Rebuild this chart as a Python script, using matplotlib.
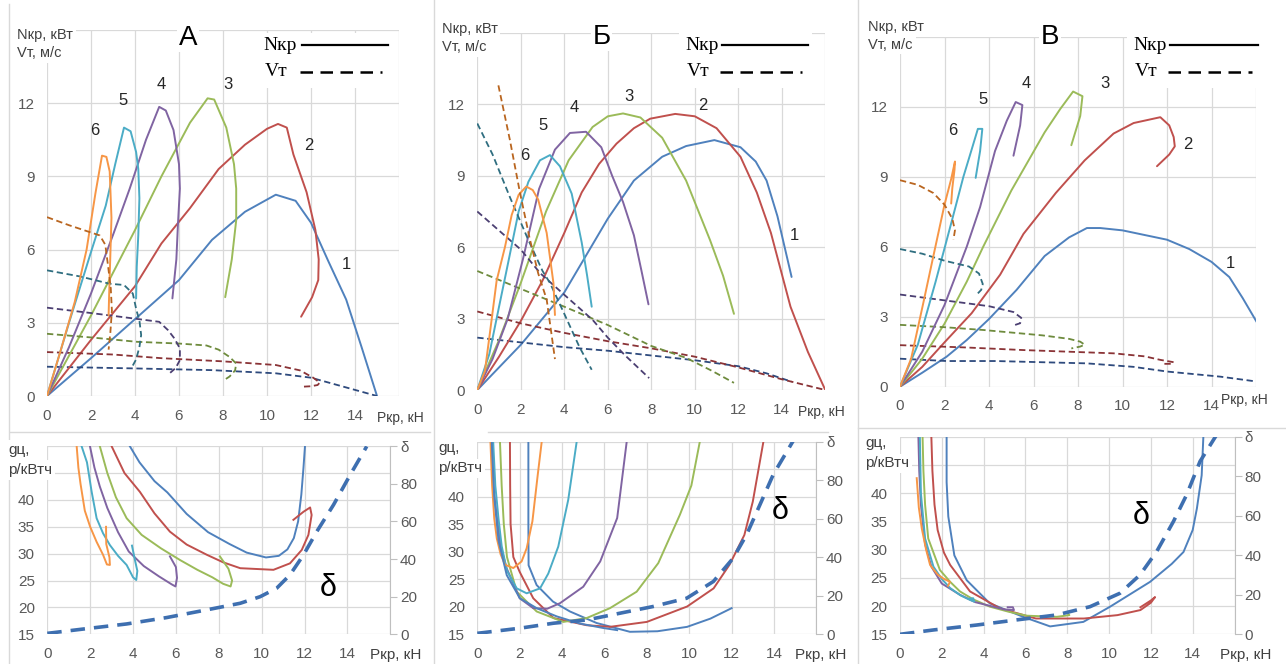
import matplotlib
matplotlib.use("Agg")
import matplotlib.pyplot as plt
from matplotlib.lines import Line2D
from matplotlib.patches import Rectangle

plt.rcParams['font.family'] = ['Liberation Sans', 'DejaVu Sans']

W, H = 1286, 664

# ---------------- data: top panels, Nкр (solid) and Vт (dashed), curves 1..6
a_n_x = [[0, 2, 4, 6, 7.5, 9, 10.4, 11.3, 12, 12.8, 13.6, 14.3, 15.0],
         [0, 2, 4, 5.2, 6.5, 7.8, 9, 10, 10.5, 10.9, 11.2, 11.8, 12.2, 12.35, 12.33, 12.05, 11.55],
         [0, 2, 4, 5.2, 6.5, 7.3, 7.6, 8.15, 8.5, 8.6, 8.6, 8.4, 8.1],
         [0, 1, 2, 3, 3.76, 4.5, 5.1, 5.4, 5.75, 6.0, 6.04, 5.95, 5.88, 5.7],
         [0, 1, 2, 2.67, 3.1, 3.5, 3.8, 4.05, 4.15, 4.2, 4.15, 4.08, 4.05],
         [0, 0.6, 1.26, 1.8, 2.2, 2.5, 2.7, 2.85, 2.93, 2.88, 2.82, 2.8]]
a_n_y = [[0, 1.55, 3.15, 4.75, 6.4, 7.55, 8.25, 8.0, 7.1, 5.5, 3.95, 2.0, 0],
         [0, 2.3, 4.5, 6.25, 7.7, 9.3, 10.3, 10.95, 11.15, 11.0, 9.9, 8.35, 6.8, 5.6, 4.75, 4.05, 3.25],
         [0, 3.3, 6.8, 9.0, 11.2, 12.2, 12.15, 11.0, 9.5, 8.5, 7.2, 5.6, 4.05],
         [0, 2.0, 4.2, 6.6, 8.5, 10.5, 11.85, 11.7, 10.9, 9.5, 8.5, 7.0, 5.6, 4.0],
         [0, 3.0, 5.9, 7.8, 9.5, 11.0, 10.85, 10.0, 9.3, 8.1, 6.6, 5.3, 4.0],
         [0, 1.8, 3.85, 6.0, 8.3, 9.85, 9.8, 9.2, 7.3, 5.8, 4.0, 3.3]]
a_v_x = [[0, 4, 7.5, 10.4, 12, 13, 14, 15],
         [0, 3, 5.2, 8, 10.4, 11.5, 12.1, 12.4, 12.3, 12.0, 11.6],
         [0, 2, 4.1, 6, 7.25, 7.8, 8.3, 8.6, 8.55, 8.3, 8.05],
         [0, 2, 4, 5.1, 5.5, 5.8, 6.04, 6.04, 5.85, 5.6],
         [0, 1.5, 2.85, 3.5, 3.9, 4.07, 4.2, 4.28, 4.2, 4.05, 3.9],
         [0, 1, 2, 2.4, 2.65, 2.78, 2.9, 2.95, 2.88, 2.8]]
a_v_y = [[1.2, 1.13, 1.06, 0.93, 0.75, 0.5, 0.25, 0],
         [1.8, 1.7, 1.55, 1.42, 1.27, 1.05, 0.75, 0.55, 0.45, 0.4, 0.38],
         [2.55, 2.4, 2.22, 2.15, 2.07, 1.9, 1.6, 1.33, 1.05, 0.8, 0.65],
         [3.62, 3.4, 3.17, 3.04, 2.7, 2.35, 1.95, 1.47, 1.15, 0.95],
         [5.15, 4.9, 4.6, 4.55, 4.2, 3.5, 3.1, 2.5, 2.0, 1.5, 1.25],
         [7.33, 7.0, 6.7, 6.58, 6.2, 5.3, 4.4, 3.5, 2.6, 1.9]]

b_n_x = [[0, 2, 4, 6, 7.2, 8.5, 9.6, 10.9, 12.1, 12.8, 13.3, 13.8, 14.45],
         [0, 1, 2, 3, 4, 4.8, 5.6, 6.4, 7.2, 7.95, 9.1, 10, 11, 12.1, 12.85, 13.5, 14.4, 15.2, 16],
         [0, 1, 2, 3.16, 4.2, 5.3, 6.0, 6.7, 7.5, 8.5, 9.6, 10.7, 11.3, 11.8],
         [0, 0.7, 1.4, 2.1, 2.84, 3.57, 4.26, 5.0, 5.7, 6.2, 6.7, 7.2, 7.55, 7.87],
         [0, 0.55, 1.0, 1.43, 1.9, 2.35, 2.88, 3.34, 3.8, 4.34, 4.8, 5.05, 5.26],
         [0, 0.35, 0.58, 0.89, 1.27, 1.58, 1.9, 2.25, 2.55, 2.8, 3.19, 3.5, 3.57]]
b_n_y = [[0, 1.9, 4.1, 7.2, 8.8, 9.8, 10.25, 10.5, 10.2, 9.6, 8.8, 7.3, 4.75],
         [0, 1.4, 2.9, 4.6, 6.6, 8.3, 9.5, 10.35, 11.0, 11.4, 11.6, 11.5, 11.0, 9.8, 8.3, 6.6, 3.5, 1.6, 0],
         [0, 2.1, 4.5, 7.5, 9.65, 11.05, 11.5, 11.62, 11.45, 10.6, 8.8, 6.3, 4.8, 3.2],
         [0, 1.3, 3.0, 5.5, 8.45, 10.1, 10.8, 10.85, 10.2, 9.0, 7.9, 6.5, 5.0, 3.6],
         [0, 1.5, 3.5, 5.4, 7.5, 8.75, 9.65, 9.87, 9.4, 8.25, 6.2, 4.8, 3.5],
         [0, 0.8, 2.4, 4.6, 6.0, 7.35, 8.2, 8.55, 8.4, 8.0, 6.6, 4.5, 3.15]]
b_v_x = [[0, 2, 4, 6, 8, 10, 12, 13.3, 14.45],
         [0, 2, 4, 6, 8, 10, 12, 14, 16],
         [0, 2, 4, 6, 8, 9.6, 10.8, 11.8],
         [0, 1, 2, 2.9, 4.0, 5.3, 6.0, 6.8, 7.9],
         [0, 0.7, 1.5, 2.3, 3.0, 3.34, 4.0, 4.7, 5.26],
         [0.97, 1.5, 1.96, 2.4, 2.8, 3.19, 3.57]]
b_v_y = [[2.2, 2.0, 1.8, 1.65, 1.45, 1.25, 1.0, 0.7, 0.35],
         [3.3, 2.8, 2.4, 2.05, 1.75, 1.4, 0.95, 0.45, 0],
         [5.0, 4.25, 3.5, 2.73, 1.85, 1.35, 0.8, 0.3],
         [7.5, 6.7, 5.9, 4.9, 4.0, 2.95, 2.2, 1.45, 0.5],
         [11.2, 9.9, 8.1, 6.4, 5.0, 4.5, 3.2, 1.8, 0.85],
         [12.8, 10.5, 8.3, 6.4, 4.9, 3.8, 1.3]]

c_n_x = [[0, 1, 2.1, 3, 4, 5.24, 6.5, 7.6, 8.4, 9, 10, 11, 12, 13, 14, 14.8, 15.4, 16.2],
         [0, 1, 2, 3.22, 4.5, 5.55, 7, 8.3, 9.6, 10.5, 11.7, 12.1, 12.3, 12.35, 12.1, 11.55],
         [0, 1, 2, 3, 3.74, 5, 6.5, 7.2, 7.78, 8.2, 8.1, 7.7],
         [0, 1, 2, 3, 3.6, 4.27, 4.8, 5.2, 5.5, 5.4, 5.1],
         [0, 0.8, 1.6, 2.3, 2.85, 3.2, 3.5, 3.7, 3.6, 3.4],
         [0, 0.5, 1.05, 1.5, 2.0, 2.3, 2.47, 2.45, 2.35, 2.3]]
c_n_y = [[0, 0.6, 1.29, 2.0, 2.9, 4.15, 5.6, 6.4, 6.8, 6.8, 6.7, 6.5, 6.3, 5.9, 5.35, 4.7, 3.8, 2.5],
         [0, 0.85, 1.9, 3.15, 4.8, 6.55, 8.3, 9.7, 10.85, 11.3, 11.55, 11.2, 10.7, 10.3, 9.95, 9.45],
         [0, 1.2, 2.7, 4.5, 6.0, 8.4, 10.9, 11.9, 12.65, 12.45, 11.6, 10.35],
         [0, 1.5, 3.5, 6.0, 7.7, 10.1, 11.4, 12.2, 12.07, 11.2, 9.9],
         [0, 1.8, 4.5, 7.0, 9.0, 10.1, 11.05, 11.05, 10.1, 8.95],
         [0, 1.2, 3.6, 5.6, 7.8, 8.9, 9.65, 9.3, 8.5, 7.85]]
c_v_x = [[0, 2.1, 4.3, 8.4, 10.5, 12, 14.4, 16.2],
         [0, 3, 5.55, 9.6, 11.0, 11.7, 12.3, 12.2, 11.8],
         [0, 2, 3.75, 6.4, 7.6, 8.1, 8.3, 8.1, 7.7],
         [0, 2, 4, 5.1, 5.45, 5.4, 5.15],
         [0, 1, 2, 3.1, 3.55, 3.72, 3.65, 3.5],
         [0, 0.8, 1.5, 2.0, 2.35, 2.47, 2.4]]
c_v_y = [[1.2, 1.1, 1.1, 1.0, 0.85, 0.65, 0.43, 0.2],
         [1.78, 1.68, 1.57, 1.43, 1.3, 1.15, 1.05, 0.98, 0.98],
         [2.65, 2.55, 2.43, 2.2, 2.05, 1.93, 1.8, 1.72, 1.64],
         [3.95, 3.7, 3.45, 3.2, 2.95, 2.72, 2.64],
         [5.9, 5.7, 5.4, 5.15, 4.85, 4.4, 4.15, 4.0],
         [8.85, 8.65, 8.3, 7.8, 7.2, 6.7, 6.3]]

# ---------------- data: bottom panels, gц (solid, curves 1..6) and δ (dashed)
a_g_x = [[3.85, 4.3, 5.0, 5.6, 6.5, 7.5, 8.5, 9.3, 10.2, 10.8, 11.2, 11.5, 11.7, 11.85, 11.95, 12.02],
         [3.0, 3.6, 4.32, 5.0, 5.72, 6.5, 7.44, 8.2, 9.0, 10.55, 11.32, 11.87, 12.18, 12.33, 12.26, 11.95, 11.48],
         [2.45, 2.8, 3.2, 3.7, 4.4, 5.3, 6.2, 7.0, 7.7, 8.2, 8.55, 8.62, 8.45, 8.05],
         [1.99, 2.2, 2.45, 2.8, 3.3, 3.8, 4.5, 5.2, 5.8, 5.98, 6.05, 6.0, 5.72],
         [1.6, 1.85, 2.07, 2.3, 2.6, 2.92, 3.3, 3.7, 4.0, 4.15, 4.2, 4.1, 3.95],
         [1.37, 1.45, 1.55, 1.75, 2.0, 2.3, 2.6, 2.78, 2.92, 2.9, 2.75, 2.74]]
a_g_y = [[50, 47, 43.5, 41.4, 37.4, 34.0, 31.8, 30.2, 29.3, 29.6, 30.8, 32.9, 36.0, 41, 46, 50],
         [50, 45, 41.5, 37.5, 34.1, 31.7, 29.8, 28.4, 27.3, 27.0, 28.2, 30.7, 33.5, 37.2, 38.6, 37.8, 36.3],
         [50, 45, 40.5, 36.6, 33.5, 31.0, 28.8, 27.0, 25.6, 24.4, 23.9, 25.0, 27.2, 29.5],
         [50, 46, 42.5, 38.5, 34, 30.4, 27.7, 25.8, 24.3, 23.9, 25.5, 27.5, 29.5],
         [50, 47, 41.5, 36.6, 33.8, 31.6, 29.6, 27.9, 25.6, 25.1, 26.8, 28.6, 31.5],
         [50, 46, 43, 38, 35, 32.2, 29.8, 28.0, 27.9, 29.3, 31.8, 35.0]]
a_d_x = [0, 1.68, 3.7, 5.57, 7.44, 9.0, 9.93, 10.7, 11.32, 11.95, 12.57, 13.35, 14.13, 14.9]
a_d_y = [0.5, 2.8, 5.5, 8.9, 13, 16.5, 20, 24.5, 31.6, 42.2, 54.6, 68.8, 84.8, 99.9]

b_g_x = [[2.41, 2.41, 2.42, 2.8, 3.57, 4.37, 5.63, 7.2, 8.5, 9.9, 11, 12],
         [1.54, 1.55, 1.57, 1.7, 2.0, 2.64, 3.6, 5.16, 6.26, 8.0, 9.9, 11.15, 11.9, 12.6, 13.0, 13.5],
         [1.07, 1.15, 1.25, 1.4, 1.86, 2.8, 4.06, 5.16, 6.26, 7.52, 8.54, 9.56, 10.1, 10.5],
         [0.68, 0.75, 0.9, 1.1, 1.38, 2.0, 2.64, 3.3, 3.9, 5.0, 5.8, 6.6, 7.05],
         [0.75, 0.85, 1.0, 1.15, 1.4, 1.86, 2.33, 2.96, 3.35, 3.82, 4.29, 4.69],
         [0.62, 0.7, 0.8, 0.92, 1.1, 1.31, 1.7, 2.09, 2.33, 2.6, 2.85, 3.04]]
b_g_y = [[50, 35, 27.5, 23.9, 20.9, 19.1, 17.0, 15.4, 15.5, 16.3, 17.8, 19.7],
         [50, 42, 35, 29, 26.3, 21.5, 17.9, 16.6, 16.3, 17.2, 20.0, 23.3, 27.6, 33.0, 39.1, 50],
         [50, 42, 35, 29, 22.7, 19.1, 17.2, 17.9, 19.7, 22.7, 27.9, 36.7, 42, 50],
         [50, 42, 37, 31, 27.0, 21.5, 19.7, 19.6, 20.6, 23.6, 28.2, 36.1, 50],
         [50, 42, 36, 31, 26.5, 23.3, 22.4, 23.3, 26.0, 30.9, 39.4, 50],
         [50, 42, 36, 32.4, 29.5, 27.6, 27.0, 28.2, 30.6, 35.5, 43.9, 50]]
b_g1b_x = [0.68, 0.8, 1.0, 1.39, 2.01, 2.8, 3.75, 4.84, 5.93, 6.6]
b_g1b_y = [50, 40, 32, 25.7, 21.5, 19.7, 18.2, 16.9, 16.1, 15.7]
b_d_x = [0, 2.0, 3.59, 5.16, 6.73, 8.3, 9.88, 11.14, 12.08, 12.71, 13.34, 13.97, 14.9]
b_d_y = [0.35, 3, 5.6, 7.3, 10.8, 14.3, 18.6, 27.3, 39.5, 51.7, 67.3, 83, 100.3]

c_g_x = [[2.23, 2.23, 2.31, 2.6, 3.19, 4.29, 5.89, 7.18, 8.77, 10.05, 11.96, 13.0, 13.56, 14.0, 14.2, 14.43, 14.51],
         [1.5, 1.55, 1.65, 1.8, 2.1, 2.4, 3.35, 4.78, 6.5, 8.8, 10.4, 11.5, 12.0, 12.2, 12.0, 11.5],
         [1.08, 1.12, 1.2, 1.35, 1.91, 2.4, 2.87, 3.5, 4.3, 5.2, 6.06, 7.5, 8.1, 8.0],
         [0.88, 0.92, 1.0, 1.2, 1.5, 2.0, 2.87, 3.6, 4.46, 5.0, 5.45, 5.4, 5.15],
         [0.95, 1.0, 1.2, 1.6, 2.0, 2.4, 2.9, 3.35, 3.55, 3.5, 3.3],
         [0.8, 0.9, 1.04, 1.25, 1.44, 1.8, 2.07, 2.39, 2.3]]
c_g_y = [[50, 42, 35.9, 29, 24.6, 20.5, 18.1, 16.4, 17.2, 19.9, 24.3, 27.5, 29.6, 33.5, 37.3, 43.2, 50],
         [50, 44, 38, 33.5, 29.5, 27.3, 22.6, 19.6, 17.8, 17.8, 18.4, 19.3, 20.6, 21.6, 21.0, 19.8],
         [50, 44, 38, 32, 26.4, 24.3, 22.6, 21.2, 19.9, 19.0, 18.3, 18.1, 18.4, 18.9],
         [50, 44, 38, 31, 27, 24, 22, 20.7, 19.9, 19.4, 19.3, 19.8, 19.8],
         [50, 40, 32, 27, 24.8, 23.2, 21.9, 21.1, 20.8, 21.4, 21.3],
         [42.7, 37.5, 33.8, 30, 27.3, 25.6, 24.9, 24.3, 23.6]]
c_d_x = [0, 1.6, 3.67, 5.58, 7.49, 9.09, 10.52, 11.48, 12.28, 13.08, 13.71, 14.35, 15.15]
c_d_y = [0, 2.2, 4.7, 7.3, 9.8, 14.0, 20.8, 30.1, 42, 57.2, 70.7, 87.6, 101.2]

curve_names = ['1', '2', '3', '4', '5', '6']
panel_titles = ['А', 'Б', 'В']

# ---------------- styles
N_COL = ['#4F81BD', '#C0504D', '#9BBB59', '#8064A2', '#4BACC6', '#F79646']
V_COL = ['#2E4A7D', '#8A3336', '#6E8B3D', '#4B3F72', '#2F6E80', '#B9651F']
D_COL = '#3E6FB0'
GRID = '#D9D9D9'
TXT = '#595959'


def fx(x):
    return x / W


def fy(y):
    return 1 - y / H


def axes_px(x0, x1, ytop, ybot):
    return fig.add_axes([fx(x0), fy(ybot), fx(x1 - x0), (ybot - ytop) / H])


def style(ax):
    for s in ax.spines.values():
        s.set_visible(False)
    ax.grid(True, color=GRID, lw=0.9)
    ax.set_axisbelow(True)
    ax.tick_params(length=0, labelsize=11, labelcolor=TXT, pad=9)


def ftext(x, y, s, **kw):
    fig.text(fx(x), fy(y), s, **kw)


def fline(x0, x1, y, **kw):
    fig.add_artist(Line2D([fx(x0), fx(x1)], [fy(y), fy(y)], transform=fig.transFigure, **kw))


def vline(x, y0, y1):
    fig.add_artist(Line2D([fx(x), fx(x)], [fy(y0), fy(y1)], transform=fig.transFigure,
                          color=GRID, lw=1))


fig = plt.figure(figsize=(W / 100, H / 100), dpi=100)

# chart borders
vline(9, 4, 664)
vline(434, 0, 664)
vline(858, 0, 664)
fline(10, 430, 432, color=GRID, lw=1)
fline(488, 828, 432, color=GRID, lw=1)
fline(858, 1286, 428, color=GRID, lw=1)

top_geo = [(47, 399, 30, 396), (477.3, 825.3, 33, 390), (900, 1256, 36.7, 386.7)]
bot_geo = [(47.3, 390.3, 446.2, 634.3), (477.3, 816.4, 441.6, 634), (900, 1234.5, 437, 634.3)]
top_data = [(a_n_x, a_n_y, a_v_x, a_v_y), (b_n_x, b_n_y, b_v_x, b_v_y), (c_n_x, c_n_y, c_v_x, c_v_y)]
bot_data = [(a_g_x, a_g_y, a_d_x, a_d_y), (b_g_x, b_g_y, b_d_x, b_d_y), (c_g_x, c_g_y, c_d_x, c_d_y)]

num_pos = [[(13.6, 5.4), (11.9, 10.25), (8.24, 12.78), (5.2, 12.78), (3.46, 12.12), (2.17, 10.87)],
           [(14.57, 6.49), (10.37, 11.97), (6.95, 12.32), (4.45, 11.87), (3.04, 11.13), (2.19, 9.87)],
           [(14.87, 5.29), (12.95, 10.36), (9.21, 13.0), (5.69, 13.0), (3.74, 12.31), (2.37, 11.0)]]
title_px = [(188, 38), (601.7, 36.7), (1050, 36.7)]
ylab_px = [(17, 35), (441.7, 29.3), (868.3, 26.7)]
xlab_px = [(376.7, 418.3), (797.7, 412.3), (1221, 400)]
leg_px = [(263, 302, 388, 382), (685, 722, 808, 802), (1133, 1170, 1258, 1252)]
delta_pos = [(13.1, 23.6), (14.28, 37.3), (11.56, 35.9)]
glab_px = [(8.3, 450), (438.3, 448.3), (865, 443.3)]
gx_px = [(370, 655), (795, 655), (1220, 655)]

for i in range(3):
    nx, ny, vx, vy = top_data[i]
    ax = axes_px(*top_geo[i])
    style(ax)
    for k in range(6):
        ax.plot(nx[k], ny[k], color=N_COL[k], lw=1.4, solid_capstyle='round')
        ax.plot(vx[k], vy[k], color=V_COL[k], lw=1.3, dashes=(3.5, 2))
        ax.text(num_pos[i][k][0], num_pos[i][k][1], curve_names[k], fontsize=12,
                ha='center', va='center', color='#262626')
    ax.set_xlim(0, 16)
    ax.set_ylim(0, 15)
    ax.set_xticks(range(0, 17, 2))
    ax.set_xticklabels([str(v) for v in range(0, 15, 2)] + [''])
    ax.set_yticks([0, 3, 6, 9, 12, 15])
    ax.set_yticklabels(['0', '3', '6', '9', '12', ''])

    # title, axis captions, legend
    ftext(title_px[i][0], title_px[i][1], panel_titles[i], fontsize=20, ha='center', va='center',
          color='black', bbox=dict(fc='white', ec='none', pad=1))
    ftext(ylab_px[i][0], ylab_px[i][1], 'Nкр, кВт', fontsize=10.5, va='center', color='#404040',
          bbox=dict(fc='white', ec='none', pad=2))
    ftext(ylab_px[i][0], ylab_px[i][1] + 18, 'Vт, м/с', fontsize=10.5, va='center', color='#404040',
          bbox=dict(fc='white', ec='none', pad=2))
    ftext(xlab_px[i][0], xlab_px[i][1], 'Pкр, кН', fontsize=10, va='center', color='#404040')
    lx, l0, l1, l2 = leg_px[i]
    fig.add_artist(Rectangle((fx(lx - 6), fy(88)), fx(l1 - lx + 10), (88 - 33) / H,
                             transform=fig.transFigure, fc='white', ec='none', zorder=1))
    ftext(lx, 45, 'Nкр', family='Liberation Serif', fontsize=14, va='center', color='black')
    ftext(lx + 2, 71.7, 'Vт', family='Liberation Serif', fontsize=14, va='center', color='black')
    fline(l0, l1, 45, color='black', lw=1.6)
    fline(l0 - 2, l2, 72, color='black', lw=1.8, dashes=(5, 3))

for i in range(3):
    gx, gy, dx, dy = bot_data[i]
    ax = axes_px(*bot_geo[i])
    style(ax)
    for k in range(6):
        ax.plot(gx[k], gy[k], color=N_COL[k], lw=1.4)
    if i == 1:
        ax.plot(b_g1b_x, b_g1b_y, color=N_COL[0], lw=1.4)
    ax.set_xlim(0, 16)
    ax.set_ylim(15, 50)
    ax.set_xticks(range(0, 17, 2))
    ax.set_xticklabels([str(v) for v in range(0, 15, 2)] + [''])
    ax.set_yticks(range(15, 51, 5))
    ax.set_yticklabels(['15', '20', '25', '30', '35', '40', '', ''])
    ax.text(delta_pos[i][0], delta_pos[i][1], 'δ', fontsize=22, ha='center', va='center')

    ax2 = ax.twinx()
    ax2.plot(dx, dy, color=D_COL, lw=2.6, dashes=(4, 2.5))
    ax2.set_ylim(0, 100)
    ax2.set_yticks(range(0, 101, 20))
    ax2.set_yticklabels(['0', '20', '40', '60', '80', 'δ'])
    for s in ['top', 'left', 'bottom']:
        ax2.spines[s].set_visible(False)
    ax2.spines['right'].set_color('#BFBFBF')
    ax2.tick_params(axis='y', length=5, color='#BFBFBF', labelsize=11, labelcolor=TXT, pad=2)

    ftext(glab_px[i][0], glab_px[i][1], 'gц,', fontsize=11, va='center', color='#404040',
          bbox=dict(fc='white', ec='none', pad=2))
    ftext(glab_px[i][0], glab_px[i][1] + 20, 'р/кВтч', fontsize=11, va='center', color='#404040',
          bbox=dict(fc='white', ec='none', pad=2))
    ftext(gx_px[i][0], gx_px[i][1], 'Pкр, кН', fontsize=11, va='center', color='#404040')

fig.savefig('out.png', dpi=100)
